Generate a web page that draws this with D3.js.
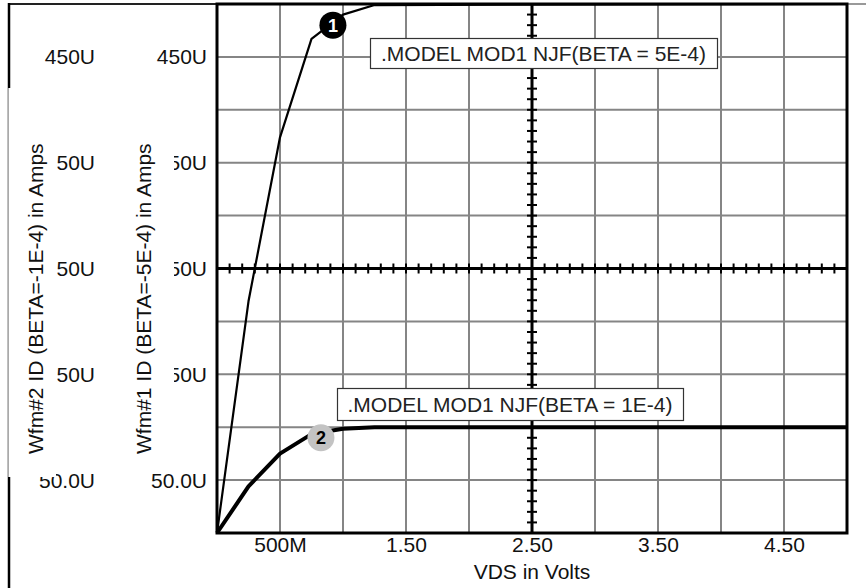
<!DOCTYPE html>
<html>
<head>
<meta charset="utf-8">
<script src="https://cdn.jsdelivr.net/npm/d3@7"></script>
<style>
  html, body { margin: 0; padding: 0; background: #fff; }
  svg { display: block; font-family: "Liberation Sans", Arial, sans-serif; }
</style>
</head>
<body>
<svg id="chart" width="866" height="588"></svg>
<script>
// Drain-source sweep of an N-channel JFET for two BETA values
const vds      = [0, 0.25, 0.5, 0.75, 1.0, 1.25, 5.0];            // volts
const idBeta5  = [0, 219e-6, 374e-6, 467e-6, 490e-6, 499e-6, 500e-6]; // amps, BETA = 5E-4
const idBeta1  = [0, 44e-6, 75e-6, 93.5e-6, 98.5e-6, 100e-6, 100e-6]; // amps, BETA = 1E-4

const xTickValues = [0.5, 1.5, 2.5, 3.5, 4.5];
const xTickLabels = ["500M", "1.50", "2.50", "3.50", "4.50"];
const yTickValues = [50e-6, 150e-6, 250e-6, 350e-6, 450e-6];
const yTickLabels = ["50.0U", "150U", "250U", "350U", "450U"];

const xTitle = "VDS in Volts";
const yTitles = ["Wfm#2 ID (BETA=-1E-4) in Amps", "Wfm#1 ID (BETA=-5E-4) in Amps"];
const modelLabels = [".MODEL MOD1 NJF(BETA = 5E-4)", ".MODEL MOD1 NJF(BETA = 1E-4)"];
const markerNames = ["1", "2"];
const markerAt = [[0.92, 480e-6], [0.825, 90e-6]];   // where each trace tag sits

const svg = d3.select("#chart");
const L = 217, R = 847, T = 4, B = 533;
const x = d3.scaleLinear().domain([0, 5]).range([L, R]);
const y = d3.scaleLinear().domain([0, 500e-6]).range([B, T]);

// outer frame
svg.append("line").attr("x1", 9).attr("x2", L).attr("y1", 4).attr("y2", 4)
  .attr("stroke", "#222").attr("stroke-width", 2);
svg.append("line").attr("x1", R).attr("x2", 866).attr("y1", 4).attr("y2", 4)
  .attr("stroke", "#777").attr("stroke-width", 1.5);
svg.append("line").attr("x1", 9).attr("x2", 9).attr("y1", 3).attr("y2", 588)
  .attr("stroke", "#000").attr("stroke-width", 2.5);

// grid
const grid = svg.append("g");
grid.selectAll(".gx").data(x.ticks(10)).join("line")
  .attr("x1", d => x(d)).attr("x2", d => x(d)).attr("y1", T).attr("y2", B)
  .attr("stroke", "#858585").attr("stroke-width", 2);
grid.selectAll(".gy").data(y.ticks(10)).join("line")
  .attr("x1", L).attr("x2", R).attr("y1", d => y(d)).attr("y2", d => y(d))
  .attr("stroke", "#858585").attr("stroke-width", 2);

// centre cross-hair axes with minor ticks
const cx = x(2.5), cy = y(250e-6);
const cross = svg.append("g").attr("stroke", "#000");
cross.append("line").attr("x1", L).attr("x2", R).attr("y1", cy).attr("y2", cy).attr("stroke-width", 3);
cross.append("line").attr("x1", cx).attr("x2", cx).attr("y1", T).attr("y2", B).attr("stroke-width", 3);
cross.selectAll(".tx").data(x.ticks(50).filter(d => d > 0 && d < 5)).join("line")
  .attr("x1", d => x(d)).attr("x2", d => x(d)).attr("y1", cy - 5).attr("y2", cy + 5).attr("stroke-width", 2);
cross.selectAll(".ty").data(y.ticks(50).filter(d => d > 0 && d < 500e-6)).join("line")
  .attr("x1", cx - 5).attr("x2", cx + 5).attr("y1", d => y(d)).attr("y2", d => y(d)).attr("stroke-width", 2);

// traces
const line = d3.line().x(d => x(d[0])).y(d => y(d[1]));
svg.append("path").datum(vds.map((v, i) => [v, idBeta5[i]]))
  .attr("d", line).attr("fill", "none").attr("stroke", "#000")
  .attr("stroke-width", 2.2).attr("stroke-linejoin", "round");
svg.append("path").datum(vds.map((v, i) => [v, idBeta1[i]]))
  .attr("d", line).attr("fill", "none").attr("stroke", "#000")
  .attr("stroke-width", 4).attr("stroke-linejoin", "round");

// plot border
svg.append("rect").attr("x", L).attr("y", T).attr("width", R - L).attr("height", B - T)
  .attr("fill", "none").attr("stroke", "#000").attr("stroke-width", 3);

// x axis labels
const xAxis = svg.append("g").attr("transform", `translate(0,${B})`)
  .call(d3.axisBottom(x).tickValues(xTickValues).tickFormat((d, i) => xTickLabels[i]).tickSize(0));
xAxis.select(".domain").remove();
xAxis.selectAll("text").attr("y", 19).attr("dy", 0)
  .attr("font-size", 21).attr("font-family", "Liberation Sans, Arial, sans-serif").attr("fill", "#111");
svg.append("text").attr("x", (L + R) / 2).attr("y", 579).attr("text-anchor", "middle")
  .attr("font-size", 21).attr("fill", "#111").text(xTitle);

// two y axes (same scale), each with a title panel
const axisRight = [95, 207];
const titleX = [43, 151];
const panels = [[8, 56, 88, 477], [110, 174, 80, 469]];
axisRight.forEach((ax, k) => {
  const g = svg.append("g").attr("transform", `translate(${ax},0)`)
    .call(d3.axisLeft(y).tickValues(yTickValues).tickFormat((d, i) => yTickLabels[i]).tickSize(0).tickPadding(0));
  g.select(".domain").remove();
  g.selectAll("text").attr("font-size", 21).attr("dy", "0.33em")
    .attr("font-family", "Liberation Sans, Arial, sans-serif").attr("fill", "#111");
});
panels.forEach((p, k) => {
  svg.append("rect").attr("x", p[0]).attr("y", p[2]).attr("width", p[1] - p[0]).attr("height", p[3] - p[2])
    .attr("fill", "#fff");
});
svg.append("line").attr("x1", 8.5).attr("x2", 8.5).attr("y1", 88).attr("y2", 477)
  .attr("stroke", "#aaa").attr("stroke-width", 1);
yTitles.forEach((t, k) => {
  svg.append("text").attr("transform", `translate(${titleX[k]},454) rotate(-90)`)
    .attr("text-anchor", "start").attr("font-size", 21).attr("fill", "#111").text(t);
});

// model annotation boxes
const boxes = [[370, 38, 347, 30], [337, 388, 346, 32]];
modelLabels.forEach((t, k) => {
  const b = boxes[k];
  svg.append("rect").attr("x", b[0] + 0.5).attr("y", b[1] + 0.5).attr("width", b[2]).attr("height", b[3])
    .attr("fill", "#fff").attr("stroke", "#333").attr("stroke-width", 1.2);
  svg.append("text").attr("x", b[0] + b[2] / 2).attr("y", b[1] + b[3] / 2 + 7.5)
    .attr("text-anchor", "middle").attr("font-size", 21).attr("fill", "#222").text(t);
});

// trace tags
const tagFill = ["#000", "#c3c3c3"];
const tagText = ["#fff", "#000"];
markerAt.forEach((m, k) => {
  svg.append("circle").attr("cx", x(m[0])).attr("cy", y(m[1])).attr("r", 13.5).attr("fill", tagFill[k]);
  svg.append("text").attr("x", x(m[0])).attr("y", y(m[1]) + 6.5).attr("text-anchor", "middle")
    .attr("font-size", 18).attr("font-weight", "bold").attr("fill", tagText[k]).text(markerNames[k]);
});
</script>
</body>
</html>
